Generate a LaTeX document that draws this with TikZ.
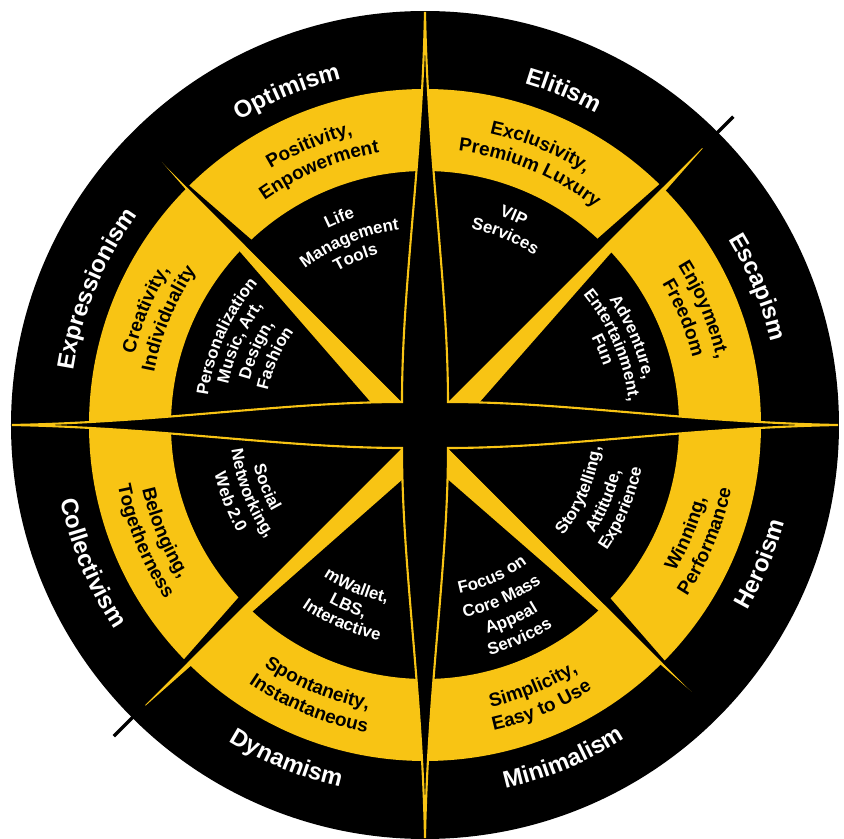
\documentclass[tikz,border=0pt]{standalone}
\usepackage{fontspec}
\setmainfont{Liberation Sans}
\usetikzlibrary{decorations.text}

\definecolor{roseyellow}{RGB}{248,196,20}

\newcommand{\outerfont}{\bfseries\fontsize{6.8}{8}\selectfont}
\newcommand{\ringfont}{\bfseries\fontsize{5.4}{6.5}\selectfont}
\newcommand{\innerfont}{\bfseries\fontsize{4.8}{6}\selectfont}

% text bent on an arc, read clockwise (letters stand outwards)
\newcommand{\cwlabel}[5]{%
  \path[decorate,decoration={text along path,text align=center,text color=#4,text={|#3|#5}}]
    (#1+40:#2) arc[start angle=#1+40,end angle=#1-40,radius=#2];}
% text bent on an arc, read anticlockwise (letters stand inwards)
\newcommand{\ccwlabel}[5]{%
  \path[decorate,decoration={text along path,text align=center,text color=#4,text={|#3|#5}}]
    (#1-40:#2) arc[start angle=#1-40,end angle=#1+40,radius=#2];}

\begin{document}
\begin{tikzpicture}[x=0.01cm,y=0.01cm]
    \useasboundingbox (-425,-414) rectangle (419,425);

    % disc and yellow band
    \fill[black] (0,0) circle[radius=414];
    \fill[roseyellow,even odd rule] (0,0) circle[radius=336] circle[radius=254];

    % diagonal points: one half yellow, one half black
    \foreach \ang/\tip/\yel/\blk in {45/405/315/135, 135/372/225/45, 225/410/315/135, 315/377/225/45} {
        \fill[roseyellow] (0,0) -- (\yel:26) -- (\ang:\tip) -- cycle;
        \fill[black] (0,0) -- (\blk:26) -- (\ang:\tip) -- cycle;
    }
    \draw[line width=1pt] (45:392) -- (45:436);
    \draw[line width=1pt] (225:396) -- (225:440);

    % main cross
    \filldraw[fill=black,draw=roseyellow,line width=0.6pt]
        (-23,23) .. controls (-23,140) and (-3,260) .. (0,413)
        .. controls (3,260) and (23,140) .. (23,23)
        .. controls (140,23) and (260,3) .. (413,0)
        .. controls (260,-3) and (140,-23) .. (23,-23)
        .. controls (23,-140) and (3,-260) .. (0,-413)
        .. controls (-3,-260) and (-23,-140) .. (-23,-23)
        .. controls (-140,-23) and (-260,-3) .. (-413,0)
        .. controls (-260,3) and (-140,23) .. cycle;

    % outer band
    \cwlabel{112.5}{356}{\outerfont}{white}{Optimism}
    \cwlabel{67.5}{356}{\outerfont}{white}{Elitism}
    \cwlabel{22.5}{356}{\outerfont}{white}{Escapism}
    \cwlabel{157.5}{356}{\outerfont}{white}{Expressionism}
    \ccwlabel{-22.5}{372}{\outerfont}{white}{Heroism}
    \ccwlabel{-67.5}{372}{\outerfont}{white}{Minimalism}
    \ccwlabel{-112.5}{372}{\outerfont}{white}{Dynamism}
    \ccwlabel{-157.5}{372}{\outerfont}{white}{Collectivism}

    % yellow band
    \cwlabel{112.5}{299}{\ringfont}{black}{Positivity,}
    \cwlabel{112.5}{276}{\ringfont}{black}{Enpowerment}
    \cwlabel{67.5}{299}{\ringfont}{black}{Exclusivity,}
    \cwlabel{67.5}{276}{\ringfont}{black}{Premium Luxury}
    \cwlabel{22.5}{299}{\ringfont}{black}{Enjoyment,}
    \cwlabel{22.5}{276}{\ringfont}{black}{Freedom}
    \cwlabel{157.5}{299}{\ringfont}{black}{Creativity,}
    \cwlabel{157.5}{276}{\ringfont}{black}{Individuality}
    \ccwlabel{-22.5}{290}{\ringfont}{black}{Winning,}
    \ccwlabel{-22.5}{313}{\ringfont}{black}{Performance}
    \ccwlabel{-67.5}{290}{\ringfont}{black}{Simplicity,}
    \ccwlabel{-67.5}{313}{\ringfont}{black}{Easy to Use}
    \ccwlabel{-112.5}{290}{\ringfont}{black}{Spontaneity,}
    \ccwlabel{-112.5}{313}{\ringfont}{black}{Instantaneous}
    \ccwlabel{-157.5}{290}{\ringfont}{black}{Belonging,}
    \ccwlabel{-157.5}{313}{\ringfont}{black}{Togetherness}

    % inner sectors
    \cwlabel{112.5}{219}{\innerfont}{white}{Life}
    \cwlabel{112.5}{197}{\innerfont}{white}{Management}
    \cwlabel{112.5}{177}{\innerfont}{white}{Tools}
    \cwlabel{67}{222}{\innerfont}{white}{VIP}
    \cwlabel{67}{202}{\innerfont}{white}{Services}
    \cwlabel{23}{223}{\innerfont}{white}{Adventure,}
    \cwlabel{23}{205}{\innerfont}{white}{Entertainment,}
    \cwlabel{23}{188}{\innerfont}{white}{Fun}
    \cwlabel{156}{219}{\innerfont}{white}{Personalization}
    \cwlabel{156}{201}{\innerfont}{white}{Music, Art,}
    \cwlabel{156}{181}{\innerfont}{white}{Design,}
    \cwlabel{156}{161}{\innerfont}{white}{Fashion}
    \ccwlabel{-23}{177}{\innerfont}{white}{Storytelling,}
    \ccwlabel{-23}{201}{\innerfont}{white}{Attitude,}
    \ccwlabel{-23}{221}{\innerfont}{white}{Experience}
    \ccwlabel{-66}{172}{\innerfont}{white}{Focus on}
    \ccwlabel{-66}{196}{\innerfont}{white}{Core Mass}
    \ccwlabel{-66}{218}{\innerfont}{white}{Appeal}
    \ccwlabel{-66}{239}{\innerfont}{white}{Services}
    \ccwlabel{-113}{182}{\innerfont}{white}{mWallet,}
    \ccwlabel{-113}{202}{\innerfont}{white}{LBS,}
    \ccwlabel{-113}{220}{\innerfont}{white}{Interactive}
    \ccwlabel{-158.5}{176}{\innerfont}{white}{Social}
    \ccwlabel{-158.5}{195}{\innerfont}{white}{Networking,}
    \ccwlabel{-158.5}{216}{\innerfont}{white}{Web 2.0}
\end{tikzpicture}
\end{document}
